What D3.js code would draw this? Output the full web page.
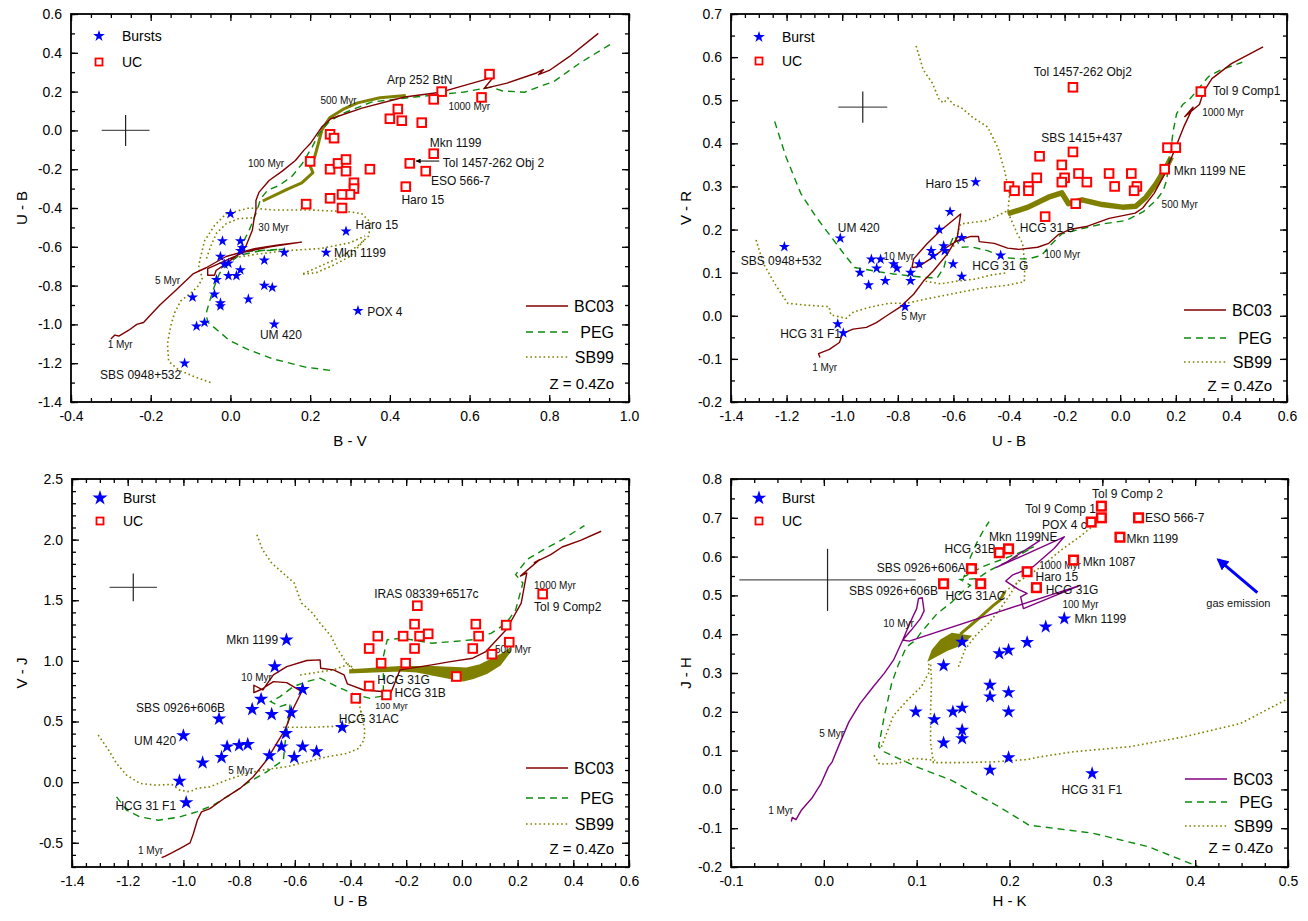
<!DOCTYPE html>
<html>
<head>
<meta charset="utf-8">
<script src="https://cdn.jsdelivr.net/npm/d3@7"></script>
<style>
  body { margin: 0; background: #fff; }
</style>
</head>
<body>
<script>
// ---------- panel 1 : U-B vs B-V ----------
const p1Bursts = [[0.0,-0.43],[-0.02,-0.57],[0.025,-0.57],[0.03,-0.605],[0.025,-0.62],[-0.025,-0.65],[-0.015,-0.69],[-0.005,-0.685],[0.135,-0.63],[0.085,-0.67],[0.025,-0.72],[-0.035,-0.77],[-0.005,-0.75],[0.015,-0.75],[0.085,-0.80],[0.105,-0.81],[-0.095,-0.86],[-0.04,-0.845],[-0.025,-0.89],[-0.025,-0.905],[0.045,-0.87],[-0.085,-1.01],[-0.065,-0.99],[0.11,-1.0],[-0.115,-1.2],[0.24,-0.63],[0.29,-0.52],[0.32,-0.93]];
const p1UC = [[0.65,0.29],[0.53,0.20],[0.51,0.16],[0.63,0.17],[0.42,0.11],[0.40,0.06],[0.43,0.05],[0.48,0.04],[0.25,-0.02],[0.26,-0.04],[0.20,-0.16],[0.51,-0.12],[0.45,-0.17],[0.49,-0.21],[0.44,-0.29],[0.25,-0.20],[0.27,-0.17],[0.29,-0.15],[0.29,-0.21],[0.35,-0.20],[0.31,-0.27],[0.31,-0.30],[0.30,-0.33],[0.28,-0.33],[0.25,-0.35],[0.28,-0.40],[0.19,-0.38]];
const p1BC03 = [[-0.30,-1.075],[-0.29,-1.055],[-0.28,-1.06],[-0.255,-1.03],[-0.235,-1.0],[-0.218,-0.99],[-0.20,-0.95],[-0.177,-0.90],[-0.135,-0.82],[-0.094,-0.74],[-0.061,-0.708],[-0.011,-0.65],[0.06,-0.61],[0.12,-0.59],[0.178,-0.576],[0.10,-0.60],[0.035,-0.627],[-0.011,-0.67],[-0.057,-0.713],[-0.057,-0.747],[-0.04,-0.747],[-0.036,-0.722],[-0.011,-0.687],[0.014,-0.649],[0.038,-0.601],[0.055,-0.515],[0.06,-0.447],[0.064,-0.412],[0.064,-0.361],[0.072,-0.318],[0.097,-0.258],[0.13,-0.21],[0.163,-0.155],[0.184,-0.103],[0.20,-0.069],[0.229,0.017],[0.252,0.06],[0.33,0.115],[0.437,0.172],[0.528,0.197],[0.66,0.275],[0.636,0.215],[0.694,0.244],[0.768,0.296],[0.785,0.313],[0.773,0.287],[0.80,0.309],[0.85,0.38],[0.923,0.50]];
const p1PEG = [[0.25,-1.237],[0.188,-1.22],[0.105,-1.177],[0.039,-1.125],[-0.003,-1.082],[-0.032,-1.031],[-0.057,-0.988],[-0.061,-0.945],[-0.054,-0.893],[-0.044,-0.825],[-0.028,-0.739],[-0.011,-0.696],[0.022,-0.644],[0.072,-0.622],[0.134,-0.612],[0.07,-0.62],[0.025,-0.625],[0.03,-0.584],[0.047,-0.515],[0.064,-0.429],[0.076,-0.352],[0.093,-0.309],[0.122,-0.284],[0.155,-0.235],[0.18,-0.172],[0.205,-0.086],[0.222,-0.017],[0.247,0.043],[0.28,0.086],[0.354,0.146],[0.462,0.172],[0.587,0.198],[0.653,0.223],[0.683,0.203],[0.738,0.197],[0.813,0.254],[0.878,0.349],[0.953,0.443]];
const p1SB99a = [[-0.05,-1.30],[-0.09,-1.27],[-0.13,-1.235],[-0.155,-1.19],[-0.158,-1.10],[-0.15,-1.01],[-0.14,-0.94],[-0.125,-0.88],[-0.10,-0.84],[-0.08,-0.80],[-0.07,-0.76],[-0.08,-0.71],[-0.077,-0.67],[-0.065,-0.57],[-0.04,-0.49],[-0.011,-0.43],[0.047,-0.40],[0.109,-0.41],[0.20,-0.41],[0.30,-0.42],[0.33,-0.43],[0.352,-0.475],[0.347,-0.544],[0.319,-0.596],[0.282,-0.647],[0.226,-0.699],[0.179,-0.742],[0.216,-0.733],[0.254,-0.699],[0.30,-0.65],[0.338,-0.56]];
const p1SB99b = [[0.0,-0.66],[0.06,-0.64],[0.132,-0.621],[0.226,-0.609],[0.30,-0.579],[0.338,-0.544]];
const p1SB99c = [[-0.06,-0.66],[-0.05,-0.60],[-0.035,-0.53],[-0.01,-0.48],[0.02,-0.455],[0.06,-0.45]];
const p1SB99thick = [[0.081,-0.364],[0.142,-0.304],[0.179,-0.27],[0.207,-0.218],[0.20,-0.184],[0.212,-0.132],[0.221,-0.064],[0.23,0.005],[0.249,0.065],[0.282,0.108],[0.319,0.142],[0.375,0.168],[0.44,0.18]];
const p1Cross = [-0.263, 0.0, 0.06, 0.08];
const p1Labels = [
  ["Arp 252 BtN",0.393,0.263,12],["500 Myr",0.226,0.156,10],["1000 Myr",0.547,0.125,10],
  ["Mkn 1199",0.50,-0.064,12],["Tol 1457-262 Obj 2",0.533,-0.167,12],["ESO 566-7",0.503,-0.258,12],
  ["Haro 15",0.429,-0.36,12],["100 Myr",0.044,-0.17,10],["30 Myr",0.07,-0.498,10],
  ["Haro 15",0.314,-0.489,12],["Mkn 1199",0.26,-0.633,12],["5 Myr",-0.189,-0.776,10],
  ["POX 4",0.343,-0.936,12],["UM 420",0.074,-1.054,12],["1 Myr",-0.308,-1.106,10],
  ["SBS 0948+532",-0.327,-1.262,12]
];
const p1Arrow = [[0.524,-0.158],[0.466,-0.158]];

// ---------- panel 2 : V-R vs U-B ----------
const p2Bursts = [[-1.208,0.16],[-1.007,0.18],[-0.52,0.31],[-0.612,0.241],[-0.651,0.20],[-0.68,0.151],[-0.673,0.139],[-0.635,0.162],[-0.631,0.151],[-0.57,0.181],[-0.601,0.12],[-0.57,0.091],[-0.43,0.14],[-0.895,0.131],[-0.862,0.131],[-0.876,0.11],[-0.815,0.12],[-0.803,0.11],[-0.723,0.12],[-0.754,0.10],[-0.754,0.081],[-0.936,0.10],[-0.905,0.071],[-0.845,0.081],[-0.774,0.021],[-1.016,-0.019],[-0.996,-0.04]];
const p2UC = [[-0.17,0.53],[0.29,0.52],[-0.17,0.38],[-0.29,0.37],[-0.21,0.35],[0.17,0.39],[0.20,0.39],[0.16,0.34],[-0.30,0.32],[-0.20,0.32],[-0.15,0.33],[-0.21,0.31],[-0.12,0.31],[-0.04,0.33],[0.04,0.33],[-0.02,0.30],[0.06,0.30],[0.05,0.29],[-0.40,0.30],[-0.38,0.29],[-0.33,0.30],[-0.33,0.29],[-0.16,0.26],[-0.27,0.23]];
const p2BC03 = [[-1.08,-0.097],[-1.085,-0.088],[-1.046,-0.078],[-1.01,-0.062],[-0.998,-0.041],[-0.961,-0.031],[-0.913,-0.027],[-0.877,-0.016],[-0.84,0.0],[-0.792,0.02],[-0.743,0.05],[-0.707,0.081],[-0.671,0.105],[-0.622,0.143],[-0.586,0.182],[-0.574,0.236],[-0.646,0.198],[-0.695,0.167],[-0.743,0.132],[-0.749,0.112],[-0.725,0.114],[-0.683,0.132],[-0.634,0.155],[-0.586,0.174],[-0.537,0.184],[-0.51,0.184],[-0.507,0.172],[-0.453,0.168],[-0.405,0.157],[-0.365,0.154],[-0.297,0.159],[-0.257,0.168],[-0.223,0.188],[-0.182,0.20],[-0.122,0.207],[-0.04,0.226],[0.054,0.238],[0.081,0.25],[0.122,0.284],[0.162,0.331],[0.196,0.385],[0.23,0.44],[0.262,0.484],[0.232,0.462],[0.285,0.49],[0.30,0.52],[0.33,0.55],[0.40,0.585],[0.514,0.624]];
const p2PEG = [[-1.243,0.451],[-1.203,0.37],[-1.149,0.284],[-1.095,0.23],[-1.041,0.184],[-0.986,0.137],[-0.955,0.112],[-0.878,0.103],[-0.816,0.097],[-0.707,0.089],[-0.658,0.088],[-0.634,0.112],[-0.616,0.159],[-0.598,0.186],[-0.574,0.159],[-0.537,0.16],[-0.477,0.151],[-0.416,0.135],[-0.362,0.132],[-0.331,0.132],[-0.283,0.14],[-0.258,0.159],[-0.21,0.19],[-0.137,0.202],[-0.064,0.213],[0.021,0.221],[0.082,0.241],[0.13,0.268],[0.155,0.291],[0.167,0.314],[0.175,0.36],[0.185,0.40],[0.191,0.43],[0.203,0.469],[0.225,0.49],[0.252,0.504],[0.318,0.555],[0.36,0.57],[0.439,0.588]];
const p2SB99a = [[-1.31,0.176],[-1.284,0.122],[-1.243,0.075],[-1.196,0.029],[-1.135,0.025],[-1.047,0.021],[-1.041,0.002],[-0.986,-0.006],[-0.959,0.009],[-0.90,0.02],[-0.831,0.029],[-0.77,0.029],[-0.689,0.04],[-0.595,0.052],[-0.50,0.064],[-0.405,0.071],[-0.345,0.079],[-0.343,0.12],[-0.351,0.168],[-0.37,0.19],[-0.404,0.24]];
const p2SB99b = [[-0.734,0.626],[-0.709,0.571],[-0.676,0.54],[-0.65,0.50],[-0.635,0.494],[-0.62,0.505],[-0.60,0.49],[-0.574,0.484],[-0.53,0.46],[-0.477,0.438],[-0.44,0.39],[-0.416,0.337],[-0.398,0.283],[-0.404,0.24]];
const p2SB99c = [[-0.70,0.08],[-0.646,0.074],[-0.59,0.08],[-0.525,0.085],[-0.46,0.095],[-0.404,0.10]];
const p2SB99d = [[-0.60,0.16],[-0.574,0.213],[-0.477,0.221],[-0.404,0.244]];
const p2SB99thick = [[-0.404,0.237],[-0.331,0.252],[-0.258,0.275],[-0.21,0.285],[-0.186,0.26],[-0.137,0.269],[-0.065,0.258],[0.008,0.252],[0.056,0.254],[0.093,0.275],[0.129,0.306],[0.166,0.345],[0.184,0.368]];
const p2Cross = [-0.926, 0.484, 0.088, 0.036];
const p2Labels = [
  ["Tol 1457-262 Obj2",-0.311,0.567,12],["Tol 9 Comp1",0.334,0.522,12],["1000 Myr",0.295,0.472,10],
  ["SBS 1415+437",-0.284,0.412,12],["Mkn 1199 NE",0.193,0.336,12],["Haro 15",-0.70,0.306,12],
  ["500 Myr",0.149,0.258,10],["HCG 31 B",-0.361,0.203,12],["UM 420",-1.016,0.203,12],
  ["SBS 0948+532",-1.365,0.128,12],["10 Myr",-0.851,0.137,10],["100 Myr",-0.273,0.141,10],
  ["HCG 31 G",-0.532,0.116,12],["5 Myr",-0.788,-0.001,10],["HCG 31 F1",-1.223,-0.041,12],
  ["1 Myr",-1.108,-0.119,10]
];

// ---------- panel 3 : V-J vs U-B ----------
const p3Bursts = [[-0.63,1.174],[-0.672,0.953],[-0.572,0.766],[-0.721,0.684],[-0.753,0.60],[-0.683,0.559],[-0.613,0.573],[-0.872,0.521],[-0.43,0.452],[-1.0,0.383],[-0.632,0.402],[-0.843,0.292],[-0.80,0.303],[-0.769,0.311],[-0.648,0.292],[-0.572,0.292],[-0.522,0.251],[-0.691,0.218],[-0.602,0.204],[-0.863,0.204],[-0.931,0.16],[-1.014,0.008],[-0.99,-0.168]];
const p3UC = [[-0.16,1.455],[0.29,1.551],[-0.17,1.303],[0.05,1.303],[0.159,1.295],[-0.302,1.204],[-0.211,1.204],[-0.152,1.204],[-0.121,1.223],[0.06,1.204],[-0.333,1.102],[-0.17,1.102],[0.039,1.102],[0.17,1.154],[0.108,1.055],[-0.29,0.981],[-0.202,0.981],[-0.02,0.871],[-0.333,0.793],[-0.271,0.719],[-0.381,0.691]];
const p3BC03 = [[-1.078,-0.623],[-1.065,-0.61],[-1.042,-0.584],[-1.013,-0.548],[-0.976,-0.501],[-0.964,-0.424],[-0.95,-0.314],[-0.935,-0.245],[-0.905,-0.218],[-0.845,-0.121],[-0.797,-0.052],[-0.749,0.044],[-0.701,0.182],[-0.665,0.32],[-0.635,0.43],[-0.605,0.609],[-0.575,0.747],[-0.629,0.821],[-0.677,0.829],[-0.719,0.766],[-0.747,0.738],[-0.747,0.799],[-0.715,0.76],[-0.677,0.884],[-0.629,0.953],[-0.557,1.003],[-0.509,1.008],[-0.507,0.939],[-0.461,0.926],[-0.423,0.884],[-0.411,0.81],[-0.353,0.76],[-0.287,0.747],[-0.255,0.738],[-0.222,0.926],[-0.108,0.967],[-0.041,0.994],[0.039,1.022],[0.086,1.077],[0.159,1.256],[0.213,1.477],[0.233,1.725],[0.21,1.70],[0.279,1.835],[0.26,1.81],[0.319,1.876],[0.36,1.939],[0.426,1.994],[0.50,2.069]];
const p3PEG = [[-1.24,-0.121],[-1.204,-0.231],[-1.156,-0.287],[-1.09,-0.314],[-1.013,-0.287],[-0.952,-0.245],[-0.893,-0.19],[-0.833,-0.107],[-0.773,-0.011],[-0.701,0.085],[-0.641,0.182],[-0.635,0.32],[-0.623,0.512],[-0.617,0.65],[-0.653,0.623],[-0.687,0.664],[-0.653,0.705],[-0.605,0.788],[-0.557,0.829],[-0.509,0.857],[-0.449,0.788],[-0.389,0.727],[-0.33,0.691],[-0.282,0.711],[-0.282,1.036],[-0.268,1.174],[-0.215,1.187],[-0.108,1.146],[-0.028,1.16],[0.039,1.174],[0.106,1.229],[0.159,1.311],[0.193,1.421],[0.219,1.642],[0.193,1.711],[0.233,1.835],[0.293,1.917],[0.36,2.0],[0.44,2.116]];
const p3SB99a = [[-1.306,0.388],[-1.27,0.27],[-1.24,0.154],[-1.204,0.058],[-1.156,-0.011],[-1.097,-0.025],[-1.042,-0.019],[-1.013,-0.066],[-0.976,-0.08],[-0.952,-0.052],[-0.905,-0.039],[-0.845,0.017],[-0.773,0.072],[-0.701,0.105],[-0.629,0.127],[-0.557,0.168],[-0.485,0.209],[-0.413,0.237],[-0.371,0.278],[-0.351,0.35],[-0.349,0.43],[-0.369,0.65],[-0.389,0.705]];
const p3SB99b = [[-0.736,2.041],[-0.716,1.917],[-0.683,1.807],[-0.629,1.697],[-0.602,1.642],[-0.576,1.477],[-0.536,1.394],[-0.509,1.311],[-0.469,1.201],[-0.449,1.105],[-0.429,1.036],[-0.415,0.981],[-0.389,0.926]];
const p3SB99c = [[-0.642,0.452],[-0.536,0.452],[-0.429,0.463],[-0.375,0.518],[-0.36,0.60]];
const p3SB99d = [[-0.581,0.884],[-0.52,0.905],[-0.461,0.926],[-0.407,0.972],[-0.39,0.94]];
const p3SB99bandTop = [[-0.402,0.925],[-0.222,0.952],[-0.103,0.952],[0.017,0.939],[0.065,0.966],[0.113,1.021],[0.149,1.063],[0.173,1.104]];
const p3SB99bandBottom = [[-0.402,0.903],[-0.222,0.919],[-0.162,0.911],[-0.103,0.884],[-0.043,0.856],[0.005,0.836],[0.041,0.856],[0.089,0.897],[0.137,0.966],[0.173,1.076]];
const p3Cross = [-1.18, 1.606, 0.085, 0.114];
const p3Labels = [
  ["IRAS 08339+6517c",-0.315,1.554,12],["1000 Myr",0.259,1.623,10],["Tol 9 Comp2",0.259,1.449,12],
  ["Mkn 1199",-0.846,1.174,12],["500 Myr",0.119,1.091,10],["10 Myr",-0.792,0.86,10],
  ["HCG 31G",-0.304,0.84,12],["HCG 31B",-0.242,0.735,12],["100 Myr",-0.311,0.625,9],
  ["SBS 0926+606B",-1.17,0.617,12],["HCG 31AC",-0.442,0.525,12],["UM 420",-1.177,0.342,12],
  ["5 Myr",-0.839,0.099,10],["HCG 31 F1",-1.244,-0.198,12],["1 Myr",-1.163,-0.567,10]
];

// ---------- panel 4 : J-H vs H-K ----------
const p4Bursts = [[0.259,0.44],[0.239,0.419],[0.219,0.379],[0.199,0.359],[0.189,0.35],[0.149,0.38],[0.129,0.319],[0.179,0.269],[0.179,0.239],[0.199,0.25],[0.199,0.20],[0.149,0.21],[0.139,0.20],[0.099,0.20],[0.119,0.18],[0.149,0.153],[0.149,0.131],[0.129,0.12],[0.199,0.082],[0.179,0.05],[0.289,0.041]];
const p4UC = [[0.299,0.73],[0.299,0.70],[0.288,0.689],[0.339,0.70],[0.319,0.65],[0.199,0.62],[0.189,0.61],[0.159,0.569],[0.269,0.591],[0.219,0.561],[0.129,0.53],[0.169,0.53],[0.229,0.52]];
const p4BC03 = [[-0.035,-0.083],[-0.034,-0.072],[-0.03,-0.078],[-0.024,-0.053],[-0.013,-0.023],[-0.003,0.015],[0.005,0.058],[0.009,0.071],[0.017,0.118],[0.027,0.174],[0.039,0.221],[0.053,0.264],[0.065,0.299],[0.075,0.333],[0.085,0.385],[0.093,0.43],[0.10,0.466],[0.102,0.492],[0.106,0.494],[0.108,0.46],[0.104,0.44],[0.094,0.41],[0.085,0.385],[0.092,0.382],[0.276,0.526],[0.215,0.466],[0.212,0.496],[0.219,0.505],[0.21,0.515],[0.196,0.537],[0.203,0.552],[0.226,0.575],[0.248,0.621],[0.259,0.651],[0.186,0.572],[0.197,0.586],[0.233,0.642]];
const p4PEG = [[0.42,-0.215],[0.35,-0.148],[0.29,-0.113],[0.221,-0.092],[0.189,-0.045],[0.137,0.024],[0.10,0.058],[0.065,0.097],[0.059,0.11],[0.065,0.187],[0.073,0.273],[0.08,0.32],[0.089,0.367],[0.099,0.385],[0.104,0.402],[0.122,0.453],[0.138,0.483],[0.147,0.505],[0.158,0.526],[0.147,0.541],[0.165,0.543],[0.179,0.565],[0.197,0.586],[0.226,0.625],[0.20,0.60],[0.172,0.575],[0.151,0.548],[0.158,0.599],[0.165,0.637],[0.172,0.668],[0.178,0.69]];
const p4SB99a = [[0.497,0.23],[0.449,0.17],[0.389,0.136],[0.329,0.11],[0.269,0.097],[0.233,0.084],[0.219,0.077],[0.183,0.071],[0.147,0.069],[0.118,0.069],[0.115,0.12],[0.115,0.20],[0.116,0.28],[0.115,0.324]];
const p4SB99b = [[0.054,0.088],[0.06,0.065],[0.079,0.067],[0.097,0.08],[0.12,0.075]];
const p4SB99c = [[0.062,0.11],[0.075,0.19],[0.09,0.23],[0.105,0.265],[0.113,0.30],[0.113,0.333]];
const p4SB99d = [[0.145,0.316],[0.152,0.36],[0.163,0.395],[0.178,0.43],[0.189,0.462],[0.20,0.50],[0.21,0.54]];
const p4SB99e = [[0.195,0.51],[0.212,0.539],[0.235,0.575],[0.255,0.616],[0.275,0.65],[0.291,0.681]];
const p4SB99stem = [[0.147,0.40],[0.169,0.445],[0.183,0.475],[0.19,0.488],[0.195,0.51]];
const p4SB99blob = [[0.113,0.333],[0.133,0.359],[0.147,0.372],[0.158,0.395],[0.138,0.402],[0.126,0.385],[0.117,0.359]];
const p4Cross = [0.004, 0.54, 0.095, 0.08];
const p4Gas = [[0.467,0.507],[0.425,0.592]];
const p4Labels = [
  ["Tol 9 Comp 2",0.289,0.761,12],["Tol 9 Comp 1",0.217,0.722,12],["ESO 566-7",0.346,0.70,12],
  ["POX 4 c",0.235,0.682,12],["Mkn 1199NE",0.178,0.651,12],["Mkn 1199",0.326,0.647,12],
  ["HCG 31B",0.13,0.619,12],["Mkn 1087",0.279,0.586,12],["SBS 0926+606A",0.057,0.572,12],
  ["1000 Myr",0.232,0.576,10],["Haro 15",0.228,0.549,12],["HCG 31G",0.239,0.515,12],
  ["SBS 0926+606B",0.027,0.512,12],["HCG 31AC",0.131,0.50,12],["100 Myr",0.257,0.476,10],
  ["Mkn 1199",0.27,0.439,12],["10 Myr",0.064,0.427,10],["gas emission",0.412,0.479,11],
  ["5 Myr",-0.005,0.144,10],["HCG 31 F1",0.256,-0.002,12],["1 Myr",-0.06,-0.055,10]
];

const FONT = "'Liberation Sans', Arial, Helvetica, sans-serif";
const OLIVE = "#808000";
const PEG_GREEN = "#0a8a0a";

const panels = [
  { frame: [71, 14, 629, 402], xDomain: [-0.4, 1.0], yDomain: [-1.4, 0.6], xMajor: 0.2, xMinor: 0.05, yMajor: 0.2, yMinor: 0.1,
    xTitle: "B - V", yTitle: "U - B", xTitleDy: 44, yTitleDx: 49, burstName: "Bursts",
    bursts: p1Bursts, uc: p1UC, bc03: p1BC03, bc03Color: "#800000", peg: [p1PEG],
    sb99: [p1SB99a, p1SB99b, p1SB99c], thick: [p1SB99thick], thickWidth: 3,
    cross: p1Cross, labels: p1Labels, starSize: 38, legendTop: [22, 48], legendBottom: [96, 70, 45, 18] },
  { frame: [731, 14, 1287, 402], xDomain: [-1.4, 0.6], yDomain: [-0.2, 0.7], xMajor: 0.2, xMinor: 0.05, yMajor: 0.1, yMinor: 0.05,
    xTitle: "U - B", yTitle: "V - R", xTitleDy: 44, yTitleDx: 45, burstName: "Burst",
    bursts: p2Bursts, uc: p2UC, bc03: p2BC03, bc03Color: "#800000", peg: [p2PEG],
    sb99: [p2SB99a, p2SB99b, p2SB99c, p2SB99d], thick: [p2SB99thick], thickWidth: 5.5,
    cross: p2Cross, labels: p2Labels, starSize: 38, legendTop: [23, 47], legendBottom: [92, 64, 40, 16] },
  { frame: [72, 479, 629, 867], xDomain: [-1.4, 0.6], yDomain: [-0.7, 2.5], xMajor: 0.2, xMinor: 0.05, yMajor: 0.5, yMinor: 0.1,
    xTitle: "U - B", yTitle: "V - J", xTitleDy: 39, yTitleDx: 50, burstName: "Burst",
    bursts: p3Bursts, uc: p3UC, bc03: p3BC03, bc03Color: "#800000", peg: [p3PEG],
    sb99: [p3SB99a, p3SB99b, p3SB99c, p3SB99d], thick: [], thickWidth: 3, band: [p3SB99bandTop, p3SB99bandBottom],
    cross: p3Cross, labels: p3Labels, starSize: 64, legendTop: [19, 42], legendBottom: [99, 69, 43, 18] },
  { frame: [731, 479, 1288, 867], xDomain: [-0.1, 0.5], yDomain: [-0.2, 0.8], xMajor: 0.1, xMinor: 0.025, yMajor: 0.1, yMinor: 0.05,
    xTitle: "H - K", yTitle: "J - H", xTitleDy: 39, yTitleDx: 45, burstName: "Burst",
    bursts: p4Bursts, uc: p4UC, bc03: p4BC03, bc03Color: "#800080", peg: [p4PEG],
    sb99: [p4SB99a, p4SB99b, p4SB99c, p4SB99d, p4SB99e], thick: [p4SB99stem], thickWidth: 3, blob: p4SB99blob,
    cross: p4Cross, labels: p4Labels, starSize: 60, legendTop: [19, 42], legendBottom: [88, 65, 41, 19], gas: p4Gas }
];

const svg = d3.select("body").append("svg")
  .attr("width", 1308).attr("height", 921)
  .style("font-family", FONT);

const defs = svg.append("defs");
defs.append("marker").attr("id", "arrowBlack").attr("viewBox", "0 0 10 10")
  .attr("refX", 9).attr("refY", 5).attr("markerWidth", 6).attr("markerHeight", 5).attr("orient", "auto")
  .append("path").attr("d", "M0,0L10,5L0,10Z").attr("fill", "#000");
defs.append("marker").attr("id", "arrowBlue").attr("viewBox", "0 0 10 10")
  .attr("refX", 8).attr("refY", 5).attr("markerWidth", 4).attr("markerHeight", 4).attr("orient", "auto")
  .append("path").attr("d", "M0,0L10,5L0,10Z").attr("fill", "#0000ff");

// tick values at whole multiples of the step inside the domain
function steps(domain, step) {
  const i0 = Math.ceil(domain[0] / step - 1e-6), i1 = Math.floor(domain[1] / step + 1e-6);
  return d3.range(i0, i1 + 1).map(i => +(i * step).toFixed(6));
}
const fmt = v => (Math.abs(v) < 1e-9 ? 0 : v).toFixed(1);

function styleAxis(sel) {
  sel.select(".domain").remove();
  sel.selectAll(".tick line").attr("stroke", "#000").attr("stroke-width", 1.3);
  sel.selectAll(".tick text").attr("font-size", 14).attr("font-family", FONT).attr("fill", "#000");
}

const star = size => d3.symbol(d3.symbolStar, size)();

function drawPanel(p, idx) {
  const [L, T, R, B] = p.frame;
  const x = d3.scaleLinear().domain(p.xDomain).range([L, R]);
  const y = d3.scaleLinear().domain(p.yDomain).range([B, T]);
  const line = d3.line().x(d => x(d[0])).y(d => y(d[1]));
  const g = svg.append("g");

  defs.append("clipPath").attr("id", "clip" + idx).append("rect")
    .attr("x", L).attr("y", T).attr("width", R - L).attr("height", B - T);
  const plot = g.append("g").attr("clip-path", `url(#clip${idx})`);

  // SB99 late-age band
  if (p.band) {
    plot.append("path")
      .attr("d", line(p.band[0].concat(p.band[1].slice().reverse())) + "Z")
      .attr("fill", OLIVE).attr("stroke", OLIVE).attr("stroke-width", 1.5);
  }
  if (p.blob) {
    plot.append("path").attr("d", line(p.blob) + "Z")
      .attr("fill", OLIVE).attr("stroke", OLIVE).attr("stroke-width", 1.5);
  }
  p.thick.forEach(t => {
    plot.append("path").attr("d", line(t)).attr("fill", "none")
      .attr("stroke", OLIVE).attr("stroke-width", p.thickWidth).attr("stroke-linejoin", "round");
  });
  p.sb99.forEach(t => {
    plot.append("path").attr("d", line(t)).attr("fill", "none")
      .attr("stroke", OLIVE).attr("stroke-width", 1.6).attr("stroke-dasharray", "1.6,2.8");
  });
  p.peg.forEach(t => {
    plot.append("path").attr("d", line(t)).attr("fill", "none")
      .attr("stroke", PEG_GREEN).attr("stroke-width", 1.4).attr("stroke-dasharray", "7,5");
  });
  plot.append("path").attr("d", line(p.bc03)).attr("fill", "none")
    .attr("stroke", p.bc03Color).attr("stroke-width", 1.4).attr("stroke-linejoin", "round");

  // typical error bars
  const [cx, cy, ex, ey] = p.cross;
  plot.append("line").attr("x1", x(cx - ex)).attr("x2", x(cx + ex)).attr("y1", y(cy)).attr("y2", y(cy))
    .attr("stroke", "#555").attr("stroke-width", 1.2);
  plot.append("line").attr("x1", x(cx)).attr("x2", x(cx)).attr("y1", y(cy - ey)).attr("y2", y(cy + ey))
    .attr("stroke", "#222").attr("stroke-width", 1.2);

  // labels
  plot.selectAll("text.lab").data(p.labels).enter().append("text")
    .attr("class", "lab")
    .attr("x", d => x(d[1])).attr("y", d => y(d[2])).attr("dy", "0.35em")
    .attr("font-size", d => d[3]).attr("fill", "#111")
    .text(d => d[0]);

  if (idx === 0) {
    plot.append("line")
      .attr("x1", x(p1Arrow[0][0])).attr("y1", y(p1Arrow[0][1]))
      .attr("x2", x(p1Arrow[1][0])).attr("y2", y(p1Arrow[1][1]))
      .attr("stroke", "#000").attr("stroke-width", 1).attr("marker-end", "url(#arrowBlack)");
  }
  if (p.gas) {
    plot.append("line")
      .attr("x1", x(p.gas[0][0])).attr("y1", y(p.gas[0][1]))
      .attr("x2", x(p.gas[1][0])).attr("y2", y(p.gas[1][1]))
      .attr("stroke", "#0000ff").attr("stroke-width", 3).attr("marker-end", "url(#arrowBlue)");
  }

  // points
  plot.selectAll("rect.uc").data(p.uc).enter().append("rect")
    .attr("class", "uc")
    .attr("x", d => x(d[0]) - 4.3).attr("y", d => y(d[1]) - 4.3)
    .attr("width", 8.6).attr("height", 8.6)
    .attr("fill", "#fff").attr("stroke", "#ff0000").attr("stroke-width", idx === 3 ? 2.5 : 2);
  plot.selectAll("path.burst").data(p.bursts).enter().append("path")
    .attr("class", "burst")
    .attr("d", star(p.starSize))
    .attr("transform", d => `translate(${x(d[0])},${y(d[1])})`)
    .attr("fill", "#0000ff");

  // axes (ticks inside on all four sides)
  const xMaj = steps(p.xDomain, p.xMajor), xMin = steps(p.xDomain, p.xMinor);
  const yMaj = steps(p.yDomain, p.yMajor), yMin = steps(p.yDomain, p.yMinor);
  g.append("g").attr("transform", `translate(0,${B})`)
    .call(d3.axisBottom(x).tickValues(xMin).tickSize(-4).tickFormat("")).call(styleAxis);
  g.append("g").attr("transform", `translate(0,${B})`)
    .call(d3.axisBottom(x).tickValues(xMaj).tickSize(-7).tickPadding(9).tickFormat(fmt)).call(styleAxis);
  g.append("g").attr("transform", `translate(0,${T})`)
    .call(d3.axisTop(x).tickValues(xMin).tickSize(-4).tickFormat("")).call(styleAxis);
  g.append("g").attr("transform", `translate(0,${T})`)
    .call(d3.axisTop(x).tickValues(xMaj).tickSize(-7).tickFormat("")).call(styleAxis);
  g.append("g").attr("transform", `translate(${L},0)`)
    .call(d3.axisLeft(y).tickValues(yMin).tickSize(-4).tickFormat("")).call(styleAxis);
  g.append("g").attr("transform", `translate(${L},0)`)
    .call(d3.axisLeft(y).tickValues(yMaj).tickSize(-7).tickPadding(9).tickFormat(fmt)).call(styleAxis);
  g.append("g").attr("transform", `translate(${R},0)`)
    .call(d3.axisRight(y).tickValues(yMin).tickSize(-4).tickFormat("")).call(styleAxis);
  g.append("g").attr("transform", `translate(${R},0)`)
    .call(d3.axisRight(y).tickValues(yMaj).tickSize(-7).tickFormat("")).call(styleAxis);

  g.append("rect").attr("x", L).attr("y", T).attr("width", R - L).attr("height", B - T)
    .attr("fill", "none").attr("stroke", "#000").attr("stroke-width", 1.8);

  // axis titles
  g.append("text").attr("x", (L + R) / 2).attr("y", B + p.xTitleDy)
    .attr("text-anchor", "middle").attr("font-size", 15).text(p.xTitle);
  g.append("text")
    .attr("transform", `translate(${L - p.yTitleDx},${(T + B) / 2}) rotate(-90)`)
    .attr("text-anchor", "middle").attr("dy", "0.35em").attr("font-size", 15).text(p.yTitle);

  // legend top-left
  const [ly1, ly2] = p.legendTop;
  g.append("path").attr("d", star(p.starSize * 1.1)).attr("transform", `translate(${L + 28},${T + ly1})`).attr("fill", "#0000ff");
  g.append("text").attr("x", L + 51).attr("y", T + ly1).attr("dy", "0.35em").attr("font-size", 14).text(p.burstName);
  g.append("rect").attr("x", L + 24.5).attr("y", T + ly2 - 3.5).attr("width", 7).attr("height", 7)
    .attr("fill", "#fff").attr("stroke", "#ff0000").attr("stroke-width", 1.8);
  g.append("text").attr("x", L + 51).attr("y", T + ly2).attr("dy", "0.35em").attr("font-size", 14).text("UC");

  // legend bottom-right
  const [b1, b2, b3, b4] = p.legendBottom;
  const lx1 = R - 103, lx2 = R - 61;
  g.append("line").attr("x1", lx1).attr("x2", lx2).attr("y1", B - b1).attr("y2", B - b1)
    .attr("stroke", p.bc03Color).attr("stroke-width", 1.5);
  g.append("line").attr("x1", lx1).attr("x2", lx2).attr("y1", B - b2).attr("y2", B - b2)
    .attr("stroke", PEG_GREEN).attr("stroke-width", 1.5).attr("stroke-dasharray", "7,5");
  g.append("line").attr("x1", lx1).attr("x2", lx2).attr("y1", B - b3).attr("y2", B - b3)
    .attr("stroke", OLIVE).attr("stroke-width", 1.6).attr("stroke-dasharray", "1.6,2.8");
  [["BC03", b1], ["PEG", b2], ["SB99", b3]].forEach(([t, o]) => {
    g.append("text").attr("x", R - 15).attr("y", B - o).attr("dy", "0.35em")
      .attr("text-anchor", "end").attr("font-size", 16).text(t);
  });
  g.append("text").attr("x", R - 15).attr("y", B - b4).attr("dy", "0.35em")
    .attr("text-anchor", "end").attr("font-size", 15).text("Z = 0.4Zo");
}

panels.forEach(drawPanel);
</script>
</body>
</html>
